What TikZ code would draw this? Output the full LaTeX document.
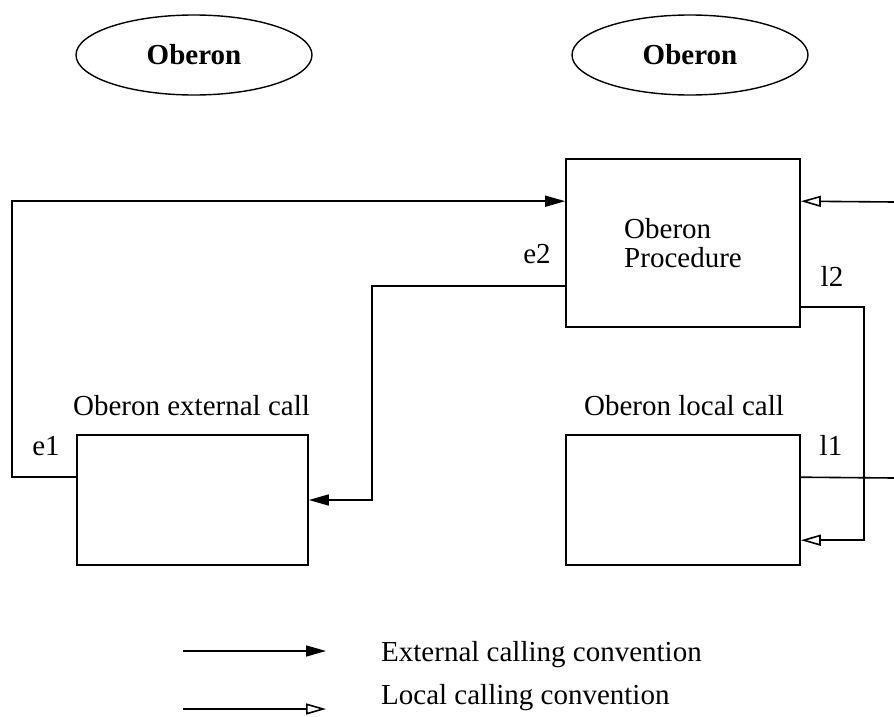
\documentclass[tikz,border=0pt]{standalone}
\usepackage{fontspec}
\setmainfont{Liberation Serif}
\usetikzlibrary{arrows.meta,shapes.geometric}
\begin{document}
\begin{tikzpicture}[x=1pt,y=-1pt,
    every node/.style={font=\fontsize{29}{29}\selectfont},
    oval/.style={ellipse,draw,line width=1.4pt,minimum width=236pt,minimum height=80pt,
      inner sep=0pt,font=\fontsize{29}{29}\selectfont\bfseries},
    box/.style={rectangle,draw,line width=1.6pt,inner sep=0pt},
    tag/.style={anchor=base,inner sep=0pt},
    extcall/.style={line width=1.6pt,-{Triangle[length=20pt,width=11pt]}},
    loccall/.style={line width=1.6pt,-{Triangle[open,length=20pt,width=11pt]}}]
      \useasboundingbox (0,0) rectangle (894,717);
      % the two Oberon worlds
      \node[oval] (ovl) at (194,55) {Oberon};
      \node[oval] (ovr) at (690,55) {Oberon};
      % boxes
      \node[box,minimum width=234pt,minimum height=168pt,align=left] (proc) at (683,243) {Oberon\\Procedure};
      \node[box,minimum width=231pt,minimum height=130pt] (ext) at (192.5,500) {};
      \node[box,minimum width=234pt,minimum height=130pt] (loc) at (683,500) {};
      \node[tag] (extname) at (191.5,415) {Oberon external call};
      \node[tag] (locname) at (684,415) {Oberon local call};
      % pins
      \node[tag] (e1) at (46,455) {e1};
      \node[tag] (e2) at (537,263) {e2};
      \node[tag] (l2) at (832,286) {l2};
      \node[tag] (l1) at (831,455) {l1};
      \coordinate (rimlo) at (894,478);
      \coordinate (rimhi) at (894,202);
      \begin{scope}
        \draw[extcall] ([yshift=-43pt]ext.north west) -- ++(-64,0) |- ([yshift=-43pt]proc.north west);
        \draw[extcall] ([yshift=-128pt]proc.north west) -- ++(-193,0) |- (ext.east);
        \draw[loccall] ([yshift=-149pt]proc.north east) -- ++(63,0) |- ([yshift=-106pt]loc.north east);
        \draw[line width=1.6pt] ([yshift=-43pt]loc.north east) -- (rimlo);
        \draw[loccall] (rimhi) -- ([yshift=-43pt]proc.north east);
      \end{scope}
      % legend
      \coordinate (xa) at (183,651);
      \coordinate (xb) at (326,651);
      \coordinate (la) at (183,709);
      \coordinate (lb) at (326,709);
      \draw[extcall] (xa) -- (xb);
      \draw[loccall] (la) -- (lb);
      \node[tag,anchor=base west] (xtext) at (381,661) {External calling convention};
      \node[tag,anchor=base west] (ltext) at (381,704) {Local calling convention};
    \end{tikzpicture}
\end{document}
